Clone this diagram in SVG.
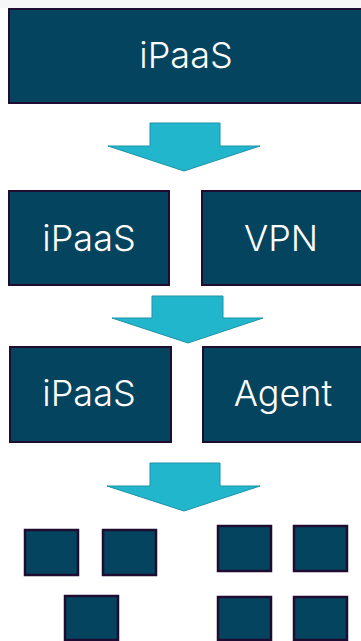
<svg xmlns="http://www.w3.org/2000/svg" width="361" height="641" viewBox="0 0 361 641">
<style>
.box{fill:#05445e;stroke:#1f0c33;stroke-width:2}
.sm{fill:#05445e;stroke:#1f0c33;stroke-width:2.5}
.t{fill:#ffffff;font-family:Inter,"Liberation Sans",sans-serif;font-weight:300;font-size:36px;text-anchor:middle}
.arr{fill:#22b6cc;stroke:#1a93a6;stroke-width:1}
</style>
<rect x="0" y="0" width="361" height="641" fill="#ffffff"/>
<rect x="0" y="0" width="361" height="8" fill="#f6f5f8"/>
<g id="top"><rect class="box" x="9" y="9" width="360" height="94"/><text class="t" x="186" y="68">iPaaS</text></g>
<g id="ipaas2"><rect class="box" x="9" y="191" width="160" height="94"/><text class="t" x="89" y="251">iPaaS</text></g>
<g id="vpn"><rect class="box" x="202" y="191" width="170" height="94"/><text class="t" x="281" y="251">VPN</text></g>
<g id="ipaas3"><rect class="box" x="10" y="347" width="161" height="95"/><text class="t" x="89" y="406">iPaaS</text></g>
<g id="agent"><rect class="box" x="203" y="347" width="170" height="95"/><text class="t" x="283" y="406">Agent</text></g>
<g id="s1"><rect class="sm" x="25" y="530" width="53" height="45"/></g>
<g id="s2"><rect class="sm" x="103" y="530" width="53" height="45"/></g>
<g id="s3"><rect class="sm" x="218" y="526" width="53" height="45"/></g>
<g id="s4"><rect class="sm" x="294" y="526" width="53" height="45"/></g>
<g id="s5"><rect class="sm" x="65" y="596" width="53" height="44"/></g>
<g id="s6"><rect class="sm" x="218" y="597" width="53" height="43"/></g>
<g id="s7"><rect class="sm" x="294" y="597" width="53" height="43"/></g>
<g id="connectors">
<polygon class="arr" points="150,123 220,123 220,146 260,146 184,171 108,146 150,146"/>
<polygon class="arr" points="152,296 223,296 223,318 263,318 188,343 112,318 152,318"/>
<polygon class="arr" points="150,463 220,463 220,486 260,486 184,511 107,486 150,486"/>
</g>
</svg>
